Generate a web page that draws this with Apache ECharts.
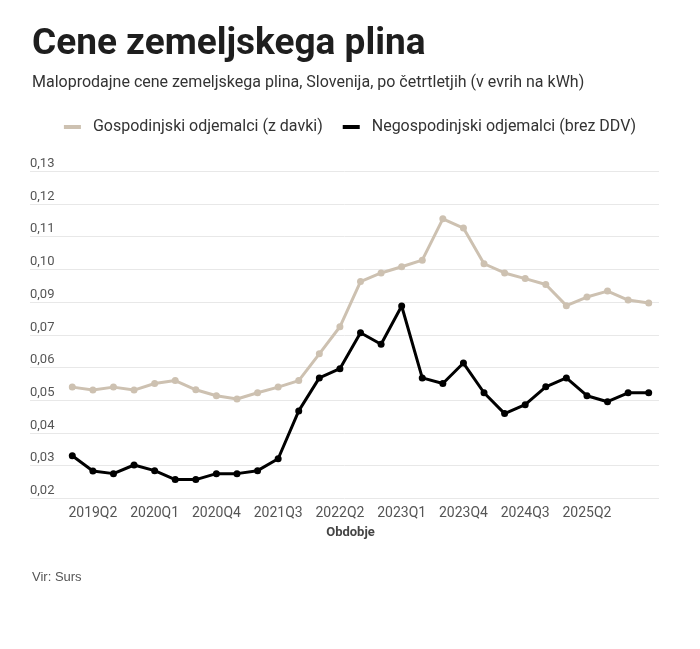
<!DOCTYPE html>
<html>
<head>
<meta charset="utf-8">
<script src="https://cdn.jsdelivr.net/npm/echarts@6/dist/echarts.min.js"></script>
<style>
  html, body { margin: 0; padding: 0; background: #fff; }
  #chart { width: 700px; height: 649px; }
</style>
</head>
<body>
<div id="chart"></div>
<script>
// cetrtletja 2019Q1 - 2026Q1
var obdobja = [
    '2019Q1','2019Q2','2019Q3','2019Q4','2020Q1','2020Q2','2020Q3','2020Q4',
    '2021Q1','2021Q2','2021Q3','2021Q4','2022Q1','2022Q2','2022Q3','2022Q4',
    '2023Q1','2023Q2','2023Q3','2023Q4','2024Q1','2024Q2','2024Q3','2024Q4',
    '2025Q1','2025Q2','2025Q3','2025Q4','2026Q1'
];
var gospodinjski = [
    0.0574, 0.0564, 0.0574, 0.0564, 0.0586, 0.0596, 0.0565, 0.0545,
    0.0534, 0.0555, 0.0574, 0.0596, 0.0686, 0.0777, 0.0929, 0.0958,
    0.0979, 0.1001, 0.1140, 0.1109, 0.0989, 0.0958, 0.0939, 0.0919,
    0.0848, 0.0877, 0.0897, 0.0867, 0.0857
];
var negospodinjski = [
    0.0343, 0.0292, 0.0283, 0.0312, 0.0293, 0.0263, 0.0263, 0.0283,
    0.0283, 0.0293, 0.0333, 0.0494, 0.0605, 0.0636, 0.0757, 0.0718,
    0.0847, 0.0605, 0.0586, 0.0655, 0.0555, 0.0485, 0.0515, 0.0575,
    0.0605, 0.0545, 0.0525, 0.0555, 0.0555
];
var yOznake = ['0,02','0,03','0,04','0,05','0,06','0,07','0,09','0,10','0,11','0,12','0,13'];
var yMin = 0.02, yMax = 0.13, yKorak = 0.011;

var myChart = echarts.init(document.getElementById('chart'));
var option = {
    backgroundColor: '#fff',
    animation: false,
    title: [
        {
            text: 'Cene zemeljskega plina',
            left: 32, top: 26, padding: 0,
            textStyle: { fontFamily: 'Roboto', fontWeight: 'bold', fontSize: 37, color: '#1e1e1e' }
        },
        {
            text: 'Maloprodajne cene zemeljskega plina, Slovenija, po četrtletjih (v evrih na kWh)',
            left: 32, top: 75, padding: 0,
            textStyle: { fontFamily: 'Roboto', fontWeight: 'normal', fontSize: 16, color: '#333' }
        },
        {
            text: 'Vir: Surs',
            left: 32, top: 571, padding: 0,
            textStyle: { fontFamily: 'Liberation Sans', fontWeight: 'normal', fontSize: 13, color: '#555' }
        }
    ],
    legend: {
        top: 114,
        left: 'center',
        icon: 'rect',
        itemWidth: 17,
        itemHeight: 4,
        itemGap: 20,
        textStyle: { fontFamily: 'Roboto', fontSize: 16, color: '#333', padding: [0, 0, 0, 7] },
        data: ['Gospodinjski odjemalci (z davki)', 'Negospodinjski odjemalci (brez DDV)']
    },
    grid: [
        { left: 30, right: 41, top: 171.3, bottom: 150.7 },
        { left: 62, right: 41, top: 171.3, bottom: 150.7 }
    ],
    xAxis: [
        { gridIndex: 0, type: 'value', show: false },
        {
            gridIndex: 1,
            type: 'category',
            data: obdobja,
            boundaryGap: true,
            name: 'Obdobje',
            nameLocation: 'middle',
            nameGap: 28,
            nameTextStyle: { fontFamily: 'Roboto', fontWeight: 'bold', fontSize: 13, color: '#444', padding: [0, 20, 0, 0] },
            axisLine: { show: false },
            axisTick: { show: false },
            axisLabel: {
                interval: function (i) { return i % 3 === 1 && i < obdobja.length - 1; },
                margin: 8,
                fontFamily: 'Roboto',
                fontSize: 14,
                color: '#555'
            }
        }
    ],
    yAxis: [
        {
            gridIndex: 0,
            type: 'value',
            min: yMin, max: yMax, interval: yKorak,
            axisLine: { show: false },
            axisTick: { show: false },
            splitLine: { lineStyle: { color: '#e8e8e8', width: 1 } },
            axisLabel: {
                inside: true,
                margin: 0,
                verticalAlign: 'bottom',
                padding: [0, 0, 1, 0],
                fontFamily: 'Roboto',
                fontSize: 13,
                color: '#555',
                formatter: function (v) {
                    var i = Math.round((v - yMin) / yKorak);
                    return yOznake[i] !== undefined ? yOznake[i] : '';
                }
            }
        },
        { gridIndex: 1, type: 'value', min: yMin, max: yMax, show: false, splitLine: { show: false } }
    ],
    series: [
        {
            name: 'Gospodinjski odjemalci (z davki)',
            type: 'line',
            xAxisIndex: 1, yAxisIndex: 1,
            data: gospodinjski,
            symbol: 'circle',
            symbolSize: 7,
            color: '#cdc1b1',
            lineStyle: { width: 3, color: '#cdc1b1' },
            itemStyle: { color: '#cdc1b1' }
        },
        {
            name: 'Negospodinjski odjemalci (brez DDV)',
            type: 'line',
            xAxisIndex: 1, yAxisIndex: 1,
            data: negospodinjski,
            symbol: 'circle',
            symbolSize: 7,
            color: '#000',
            lineStyle: { width: 3, color: '#000' },
            itemStyle: { color: '#000' }
        }
    ]
};
myChart.setOption(option);
</script>
</body>
</html>
